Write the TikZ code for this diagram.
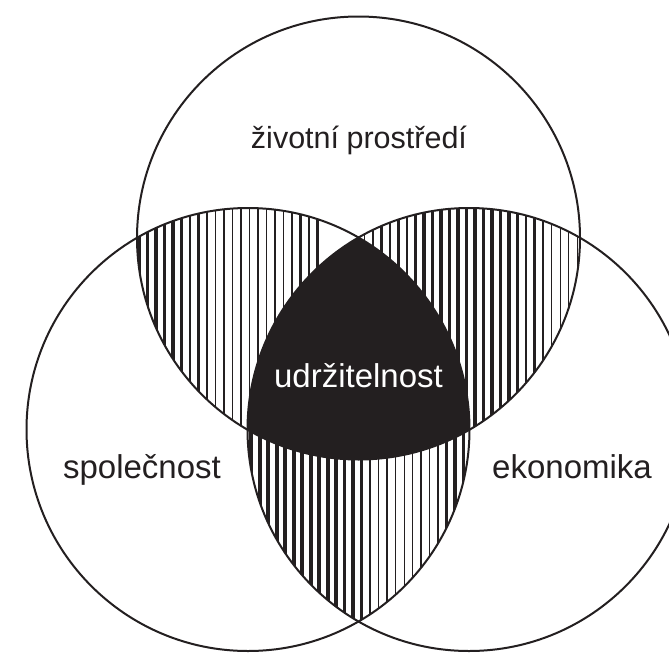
\documentclass[tikz,border=0pt]{standalone}
\usepackage{fontspec}
\setmainfont{Liberation Sans}
\definecolor{ink}{HTML}{231F20}
\begin{document}
\begin{tikzpicture}[x=1pt,y=-1pt,
  ring/.style={draw=ink,line width=2pt},
  lbl/.style={font=\fontsize{33}{38}\selectfont,text=ink,anchor=base,inner sep=0pt},
  hatch/.style={draw=ink}]
\useasboundingbox (0,0) rectangle (669,654);
\coordinate (T) at (358.5,238);
\coordinate (L) at (248,429.5);
\coordinate (R) at (469,429.5);
\def\rad{221.5pt}
% top-left lens
\begin{scope}
  \clip (T) circle[radius=\rad];
  \clip (L) circle[radius=\rad];
  \foreach \x in {139,147.5,...,320}{
    \pgfmathsetmacro\w{max(4-3*(\x-140)/110, 1+(\x-250)/40)}
    \draw[hatch,line width=\w pt] (\x,0) -- (\x,654);
  }
\end{scope}
% top-right lens
\begin{scope}
  \clip (T) circle[radius=\rad];
  \clip (R) circle[radius=\rad];
  \foreach \x in {356,364.5,...,585}{
    \pgfmathsetmacro\w{min(3.8, 1.5+(\x-360)/40, max(1, 3.8-(\x-500)*0.0467))}
    \draw[hatch,line width=\w pt] (\x,0) -- (\x,654);
  }
\end{scope}
% bottom lens
\begin{scope}
  \clip (L) circle[radius=\rad];
  \clip (R) circle[radius=\rad];
  \foreach \x in {251,259.5,...,475}{
    \pgfmathsetmacro\w{max(min(4, 4-(\x-340)*0.06), 1, 1+(\x-410)*0.05)}
    \draw[hatch,line width=\w pt] (\x,0) -- (\x,654);
  }
\end{scope}
% centre
\begin{scope}
  \clip (T) circle[radius=\rad];
  \clip (L) circle[radius=\rad];
  \fill[ink] (R) circle[radius=\rad];
\end{scope}
\draw[ring] (T) circle[radius=\rad];
\draw[ring] (L) circle[radius=\rad];
\draw[ring] (R) circle[radius=\rad];
\node[lbl,font=\fontsize{30.5}{35}\selectfont] (env) at (359,148) {životní\hspace{7.5pt}prostředí};
\node[lbl,text=white] (sus) at (358.5,387) {udržitelnost};
\node[lbl] (soc) at (142,478) {společnost};
\node[lbl] (eco) at (572,478) {ekonomika};
\end{tikzpicture}
\end{document}
